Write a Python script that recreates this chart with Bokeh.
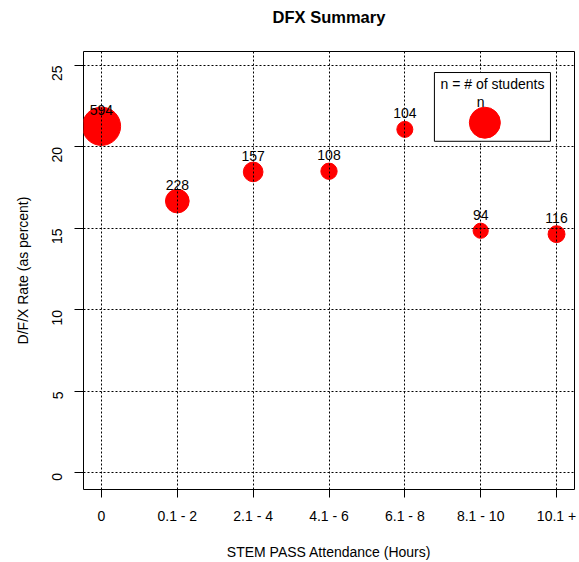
import math
from bokeh.plotting import figure
from bokeh.models import Range1d, FixedTicker, BoxAnnotation, Label, ColumnDataSource, LinearAxis
from bokeh.core.properties import value
from bokeh.embed import file_html
from bokeh.resources import INLINE

# ---- data ----
categories = ["0", "0.1 - 2", "2.1 - 4", "4.1 - 6", "6.1 - 8", "8.1 - 10", "10.1 +"]
dfx_rate = [21.27, 16.68, 18.47, 18.51, 21.08, 14.86, 14.65]
n_students = [594, 228, 157, 108, 104, 94, 116]
y_ticks = [0, 5, 10, 15, 20, 25]
title_text = "DFX Summary"

FONT = "Liberation Sans"
x_pos = list(range(1, len(categories) + 1))
sizes = [1.57 * math.sqrt(n) for n in n_students]

src = ColumnDataSource(dict(x=x_pos, y=dfx_rate, n=[str(v) for v in n_students], size=sizes))

X0, X1, Y0, Y1 = 0.763, 7.237, -1.02, 25.86
p = figure(width=579, height=562, output_backend="svg", toolbar_location=None,
           x_range=Range1d(X0, X1), y_range=Range1d(Y0, Y1),
           min_border_left=83, min_border_right=5, min_border_top=51, min_border_bottom=72,
           background_fill_color="white", border_fill_color="white")

p.outline_line_color = "black"
p.outline_line_width = 1
p.outline_line_alpha = 1

# points
p.scatter("x", "y", size="size", source=src, fill_color="#ff0000", line_color="#ff0000")
p.text("x", "y", text="n", source=src, y_offset=-16, text_align="center", text_baseline="middle",
       text_font=value(FONT), text_font_size="14px", text_color="black")

# axes
bottom_ax = p.below[0]
left_ax = p.left[0]
for ax in (bottom_ax, left_ax):
    ax.axis_line_color = None
    ax.major_tick_in = 0
    ax.minor_tick_line_color = None
    ax.major_tick_line_color = "black"
    ax.major_label_text_font = FONT
    ax.major_label_text_font_size = "14px"
    ax.major_label_text_color = "black"
    ax.axis_label_text_font = FONT
    ax.axis_label_text_font_size = "14px"
    ax.axis_label_text_font_style = "normal"
    ax.axis_label_text_color = "black"

bottom_ax.ticker = FixedTicker(ticks=x_pos)
bottom_ax.major_label_overrides = {i: c for i, c in zip(x_pos, categories)}
bottom_ax.major_tick_out = 8
bottom_ax.major_label_standoff = 10
bottom_ax.axis_label = "STEM PASS Attendance (Hours)"
bottom_ax.axis_label_standoff = 17

left_ax.ticker = FixedTicker(ticks=y_ticks)
left_ax.major_tick_out = 9
left_ax.major_label_orientation = math.pi / 2
left_ax.major_label_standoff = 17
left_ax.axis_label = "D/F/X Rate (as percent)"
left_ax.axis_label_standoff = 14

# grid: dotted, drawn over the points
p.xgrid.ticker = FixedTicker(ticks=x_pos)
p.ygrid.ticker = FixedTicker(ticks=y_ticks)
for g in (p.xgrid[0], p.ygrid[0]):
    g.grid_line_color = "black"
    g.grid_line_dash = "2 2"
    g.grid_line_width = 1
    g.grid_line_alpha = 1
    g.level = "guide"

# title: drawn as the label of an empty axis above the plot region
title_ax = LinearAxis(ticker=FixedTicker(ticks=[]), axis_label=title_text,
                      axis_line_color=None, major_tick_out=0, major_tick_in=0,
                      minor_tick_out=0, minor_tick_in=0, major_label_standoff=0,
                      major_label_text_font_size="0px",
                      axis_label_standoff=26, axis_label_text_font=FONT,
                      axis_label_text_font_size="16.5px", axis_label_text_font_style="bold",
                      axis_label_text_color="black")
p.add_layout(title_ax, "above")

# legend (custom, R-style)
leg_left, leg_right, leg_top, leg_bottom = 5.39, 6.92, 24.57, 20.35
box = BoxAnnotation(left=leg_left, right=leg_right, top=leg_top, bottom=leg_bottom,
                    fill_color="white", fill_alpha=1, line_color="black", line_width=1, line_alpha=1)
p.add_layout(box)
p.add_layout(Label(x=6.155, y=23.84, text="n = # of students", text_align="center",
                   text_baseline="middle", text_font=FONT, text_font_size="14px",
                   text_color="black", level="overlay"))
p.add_layout(Label(x=6.0, y=22.76, text="n", text_align="center", text_baseline="middle",
                   text_font=FONT, text_font_size="14px", text_color="black", level="overlay"))
leg_pt = p.scatter([6.055], [21.49], size=31, fill_color="#ff0000", line_color="#ff0000")
leg_pt.level = "overlay"

open("out.html", "w").write(file_html(p, INLINE))
